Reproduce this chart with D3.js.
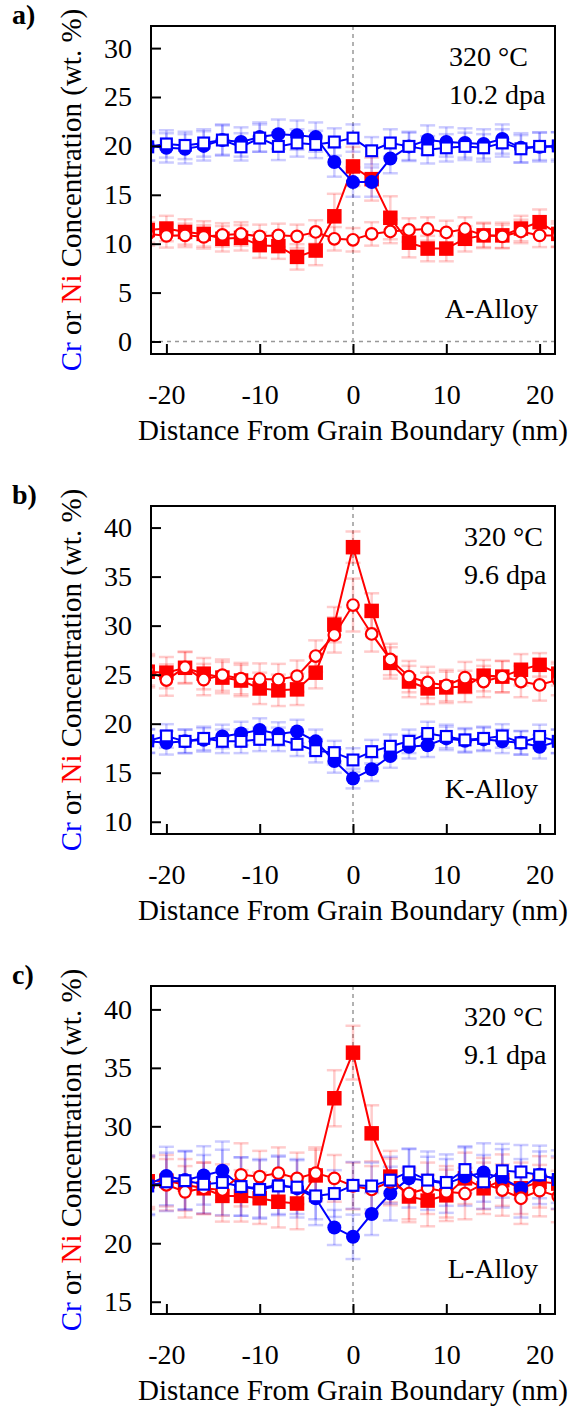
<!DOCTYPE html>
<html>
<head>
<meta charset="utf-8">
<script src="https://cdn.jsdelivr.net/npm/d3@7"></script>
<style>
  body { margin: 0; background: #fff; }
  svg { display: block; font-family: "Liberation Serif", "Times New Roman", serif; }
</style>
</head>
<body>
<svg id="chart" width="574" height="1423"></svg>
<script>
// distance from grain boundary (nm)
const distance = [-22, -20, -18, -16, -14, -12, -10, -8, -6, -4, -2, 0, 2, 4, 6, 8, 10, 12, 14, 16, 18, 20, 22];

// a) A-Alloy
const aNiFilled = [11.4, 11.55, 11.2, 11.0, 10.5, 10.6, 9.85, 9.75, 8.65, 9.3, 12.8, 17.9, 16.6, 12.65, 10.1, 9.5, 9.5, 10.5, 10.85, 10.85, 11.55, 12.2, 11.0];
const aNiFilledErr = [1.3, 1.3, 1.3, 1.3, 1.3, 1.3, 1.3, 1.3, 1.3, 1.5, 2.3, 2.0, 2.2, 2.2, 1.5, 1.3, 1.3, 1.3, 1.3, 1.3, 1.3, 1.3, 1.3];
const aCrFilled = [20.0, 19.8, 19.7, 20.0, 20.6, 20.4, 20.9, 21.2, 21.1, 20.9, 18.35, 16.3, 16.3, 18.7, 19.95, 20.6, 20.4, 20.3, 20.2, 20.7, 19.8, 19.9, 19.9];
const aCrFilledErr = [1.5, 1.5, 1.5, 1.5, 1.5, 1.5, 1.5, 1.5, 1.5, 1.5, 1.5, 1.5, 1.5, 1.5, 1.5, 1.5, 1.5, 1.5, 1.5, 1.5, 1.5, 1.5, 1.5];
const aNiOpen = [11.0, 10.8, 10.85, 10.7, 10.9, 11.0, 10.75, 10.85, 10.75, 11.2, 10.5, 10.4, 11.0, 11.25, 11.4, 11.5, 11.15, 11.5, 10.85, 10.75, 11.25, 10.85, 10.85];
const aNiOpenErr = [1.2, 1.2, 1.2, 1.2, 1.2, 1.2, 1.2, 1.2, 1.2, 1.2, 1.2, 1.2, 1.2, 1.2, 1.2, 1.2, 1.2, 1.2, 1.2, 1.2, 1.2, 1.2, 1.2];
const aCrOpen = [19.9, 20.2, 20.05, 20.3, 20.6, 19.9, 20.8, 19.95, 20.3, 20.15, 20.4, 20.8, 19.5, 20.3, 19.95, 19.6, 19.8, 19.95, 19.8, 20.3, 19.7, 19.95, 20.0];
const aCrOpenErr = [1.4, 1.4, 1.4, 1.4, 1.6, 1.4, 1.4, 1.4, 1.4, 1.4, 1.4, 1.4, 1.4, 1.4, 1.4, 1.4, 1.4, 1.4, 1.4, 1.4, 1.4, 1.4, 1.4];

// b) K-Alloy
const bNiFilled = [25.3, 25.2, 25.7, 25.1, 24.7, 24.4, 23.6, 23.4, 23.5, 25.2, 30.1, 38.0, 31.5, 26.2, 24.3, 23.6, 23.7, 23.8, 24.9, 24.8, 25.5, 26.0, 25.1];
const bNiFilledErr = [1.6, 1.6, 1.6, 1.6, 1.6, 1.6, 1.6, 1.6, 1.6, 1.6, 1.8, 1.6, 1.8, 1.6, 1.6, 1.6, 1.6, 1.6, 1.6, 1.6, 1.6, 1.2, 1.2];
const bCrFilled = [18.2, 18.05, 18.2, 18.35, 18.7, 19.0, 19.35, 18.95, 19.2, 18.2, 16.2, 14.4, 15.35, 16.7, 17.65, 17.8, 18.5, 18.25, 18.4, 18.2, 18.05, 17.65, 18.2];
const bCrFilledErr = [1.2, 1.2, 1.2, 1.2, 1.2, 1.2, 1.2, 1.2, 1.2, 1.2, 1.2, 1.0, 1.2, 1.2, 1.2, 1.2, 1.2, 1.2, 1.2, 1.2, 1.2, 1.2, 1.2];
const bNiOpen = [25.5, 24.45, 25.75, 24.5, 24.95, 24.6, 24.55, 24.5, 24.85, 26.9, 29.05, 32.1, 29.15, 26.55, 24.8, 24.2, 23.9, 24.7, 24.3, 24.8, 24.3, 23.95, 24.5];
const bNiOpenErr = [1.6, 1.6, 1.6, 1.6, 1.6, 1.6, 1.6, 1.6, 1.6, 1.6, 1.8, 2.7, 1.8, 1.6, 1.6, 1.6, 1.6, 1.6, 1.6, 1.6, 1.6, 1.6, 1.6];
const bCrOpen = [18.25, 18.75, 18.2, 18.5, 18.2, 18.2, 18.4, 18.4, 17.9, 17.25, 17.05, 16.3, 17.15, 17.7, 18.2, 19.0, 18.7, 18.35, 18.5, 18.75, 18.05, 18.7, 18.2];
const bCrOpenErr = [1.2, 1.2, 1.2, 1.2, 1.2, 1.2, 1.2, 1.2, 1.2, 1.2, 1.2, 1.2, 1.2, 1.2, 1.2, 1.2, 1.2, 1.2, 1.2, 1.2, 1.2, 1.2, 1.2];

// c) L-Alloy
const cNiFilled = [25.3, 25.35, 25.0, 24.7, 24.05, 24.05, 23.85, 23.55, 23.4, 25.8, 32.4, 36.3, 29.4, 25.7, 24.0, 23.65, 24.1, 25.55, 24.7, 25.4, 24.7, 25.25, 25.1];
const cNiFilledErr = [2.2, 2.2, 2.2, 2.2, 2.2, 2.2, 2.2, 2.2, 2.2, 2.2, 2.4, 2.3, 2.4, 2.2, 2.2, 2.2, 2.2, 2.2, 2.2, 2.2, 2.2, 2.2, 2.2];
const cCrFilled = [25.0, 25.75, 25.4, 25.8, 26.2, 24.85, 24.7, 25.0, 24.7, 23.85, 21.35, 20.55, 22.5, 24.25, 25.55, 25.35, 25.1, 25.7, 26.05, 25.55, 24.7, 25.85, 25.45];
const cCrFilledErr = [2.5, 2.5, 2.5, 2.5, 2.5, 2.5, 2.5, 2.5, 2.5, 2.3, 1.5, 1.9, 1.8, 2.3, 2.5, 2.5, 2.5, 2.5, 2.5, 2.5, 2.5, 2.5, 2.5];
const cNiOpen = [25.1, 25.0, 24.4, 24.7, 24.55, 25.85, 25.7, 26.0, 25.55, 26.0, 25.55, 24.9, 24.6, 25.25, 24.25, 24.7, 24.4, 24.25, 25.1, 24.55, 23.85, 24.5, 24.0];
const cNiOpenErr = [2.2, 2.2, 2.2, 2.2, 2.2, 2.7, 2.2, 2.2, 2.2, 2.2, 2.0, 2.0, 2.0, 2.0, 2.2, 2.2, 2.2, 2.2, 2.2, 2.2, 2.2, 2.2, 2.2];
const cCrOpen = [24.9, 25.25, 25.35, 25.05, 25.2, 24.85, 24.6, 24.9, 24.8, 24.05, 24.25, 24.95, 24.9, 25.4, 26.1, 25.4, 25.2, 26.3, 25.25, 26.2, 26.1, 25.85, 25.45];
const cCrOpenErr = [2.5, 2.5, 2.5, 2.5, 2.8, 2.5, 2.5, 2.5, 2.3, 2.0, 2.0, 2.0, 2.0, 2.0, 2.0, 2.0, 2.0, 2.0, 2.3, 2.3, 2.3, 2.0, 2.0];

const xTicks = [-20, -10, 0, 10, 20];
const yTicksA = [0, 5, 10, 15, 20, 25, 30];
const yTicksB = [10, 15, 20, 25, 30, 35, 40];
const yTicksC = [15, 20, 25, 30, 35, 40];

const BLUE = "#0000ff";
const RED = "#ff0000";
const FONT = "'Liberation Serif', 'Times New Roman', serif";

const svg = d3.select("#chart");
const left = 151, right = 555, frameH = 328;

const x = d3.scaleLinear().domain([-21.65, 21.65]).range([left, right]);

const panels = [
  { tag: "a)", top: 26, yDomain: [-1.28, 32.26], yTicks: yTicksA, temp: "320 °C", dose: "10.2 dpa", textX: 449, alloy: "A-Alloy", zeroLine: true,
    series: [[aNiFilled, aNiFilledErr], [aCrFilled, aCrFilledErr], [aNiOpen, aNiOpenErr], [aCrOpen, aCrOpenErr]] },
  { tag: "b)", top: 506, yDomain: [8.75, 42.2], yTicks: yTicksB, temp: "320 °C", dose: "9.6 dpa", textX: 464, alloy: "K-Alloy", zeroLine: false,
    series: [[bNiFilled, bNiFilledErr], [bCrFilled, bCrFilledErr], [bNiOpen, bNiOpenErr], [bCrOpen, bCrOpenErr]] },
  { tag: "c)", top: 986, yDomain: [13.95, 42.0], yTicks: yTicksC, temp: "320 °C", dose: "9.1 dpa", textX: 464, alloy: "L-Alloy", zeroLine: false,
    series: [[cNiFilled, cNiFilledErr], [cCrFilled, cCrFilledErr], [cNiOpen, cNiOpenErr], [cCrOpen, cCrOpenErr]] }
];

// draw order: Ni filled squares, Cr filled circles, Ni open circles, Cr open squares
const styles = [
  { color: RED, shape: "square", filled: true },
  { color: BLUE, shape: "circle", filled: true },
  { color: RED, shape: "circle", filled: false },
  { color: BLUE, shape: "square", filled: false }
];

panels.forEach((p, pi) => {
  const bottom = p.top + frameH;
  const y = d3.scaleLinear().domain(p.yDomain).range([bottom, p.top]);

  svg.append("clipPath").attr("id", "clip" + pi)
    .append("rect").attr("x", left).attr("y", p.top).attr("width", right - left).attr("height", frameH);

  const plot = svg.append("g").attr("clip-path", `url(#clip${pi})`);

  // dashed reference lines
  plot.append("line")
    .attr("x1", x(0)).attr("x2", x(0)).attr("y1", p.top).attr("y2", bottom)
    .attr("stroke", "#999").attr("stroke-width", 1.5).attr("stroke-dasharray", "4,4");
  if (p.zeroLine) {
    plot.append("line")
      .attr("x1", left).attr("x2", right).attr("y1", y(0)).attr("y2", y(0))
      .attr("stroke", "#999").attr("stroke-width", 1.5).attr("stroke-dasharray", "4,4");
  }

  // error bars first, pale
  p.series.forEach(([vals, errs], si) => {
    const st = styles[si];
    const pts = distance.map((d, i) => ({ d, v: vals[i], e: errs[i] }));
    const eg = plot.append("g").attr("stroke", st.color).attr("stroke-opacity", 0.2).attr("stroke-width", 2.5);
    pts.forEach(pt => {
      const xc = x(pt.d), y0 = y(pt.v - pt.e), y1 = y(pt.v + pt.e);
      eg.append("line").attr("x1", xc).attr("x2", xc).attr("y1", y0).attr("y2", y1);
      eg.append("line").attr("x1", xc - 7.5).attr("x2", xc + 7.5).attr("y1", y0).attr("y2", y0);
      eg.append("line").attr("x1", xc - 7.5).attr("x2", xc + 7.5).attr("y1", y1).attr("y2", y1);
    });
  });

  // lines and markers
  p.series.forEach(([vals], si) => {
    const st = styles[si];
    const pts = distance.map((d, i) => ({ d, v: vals[i] }));
    plot.append("path")
      .datum(pts)
      .attr("fill", "none")
      .attr("stroke", st.color)
      .attr("stroke-width", 2)
      .attr("d", d3.line().x(d => x(d.d)).y(d => y(d.v)));

    if (st.shape === "square") {
      const s = st.filled ? 14.5 : 10.8;
      plot.selectAll(null).data(pts).join("rect")
        .attr("x", d => x(d.d) - s / 2).attr("y", d => y(d.v) - s / 2)
        .attr("width", s).attr("height", s)
        .attr("fill", st.filled ? st.color : "#fff")
        .attr("stroke", st.filled ? "none" : st.color)
        .attr("stroke-width", 2.2);
    } else {
      plot.selectAll(null).data(pts).join("circle")
        .attr("cx", d => x(d.d)).attr("cy", d => y(d.v))
        .attr("r", st.filled ? 7 : 5.8)
        .attr("fill", st.filled ? st.color : "#fff")
        .attr("stroke", st.filled ? "none" : st.color)
        .attr("stroke-width", 2.2);
    }
  });

  // axes with inward ticks
  const yAxis = svg.append("g")
    .attr("transform", `translate(${left},0)`)
    .call(d3.axisLeft(y).tickValues(p.yTicks).tickFormat(d => String(d)).tickSizeInner(-10).tickSizeOuter(0).tickPadding(19));
  const xAxis = svg.append("g")
    .attr("transform", `translate(0,${bottom})`)
    .call(d3.axisBottom(x).tickValues(xTicks).tickFormat(d => String(d)).tickSizeInner(-10).tickSizeOuter(0).tickPadding(30));
  [yAxis, xAxis].forEach(ax => {
    ax.attr("font-family", FONT).attr("font-size", 28);
    ax.select(".domain").remove();
    ax.selectAll(".tick line").attr("stroke", "#000").attr("stroke-width", 2);
    ax.selectAll(".tick text").attr("fill", "#000");
  });

  // frame
  svg.append("rect")
    .attr("x", left).attr("y", p.top).attr("width", right - left).attr("height", frameH)
    .attr("fill", "none").attr("stroke", "#000").attr("stroke-width", 2);

  // panel tag
  svg.append("text").attr("x", 12).attr("y", p.top - 2)
    .attr("font-family", FONT).attr("font-size", 28).attr("font-weight", "bold").text(p.tag);

  // y label
  const yl = svg.append("text")
    .attr("transform", `translate(81,${p.top + frameH / 2}) rotate(-90)`)
    .attr("font-family", FONT).attr("text-anchor", "middle").attr("font-size", 29);
  yl.append("tspan").attr("fill", BLUE).text("Cr");
  yl.append("tspan").attr("fill", "#000").text(" or ");
  yl.append("tspan").attr("fill", RED).text("Ni");
  yl.append("tspan").attr("fill", "#000").text(" Concentration (wt. %)");

  // x label
  svg.append("text")
    .attr("x", (left + right) / 2).attr("y", bottom + 86)
    .attr("font-family", FONT).attr("text-anchor", "middle").attr("font-size", 29)
    .text("Distance From Grain Boundary (nm)");

  // annotations
  svg.append("text").attr("x", p.textX).attr("y", p.top + 40).attr("font-family", FONT).attr("font-size", 28).text(p.temp);
  svg.append("text").attr("x", p.textX).attr("y", p.top + 78).attr("font-family", FONT).attr("font-size", 28).text(p.dose);
  svg.append("text").attr("x", 538).attr("y", bottom - 36).attr("text-anchor", "end").attr("font-family", FONT).attr("font-size", 28).text(p.alloy);
});
</script>
</body>
</html>
